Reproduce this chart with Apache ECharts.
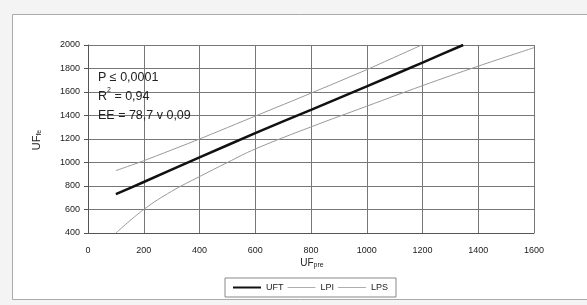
<!DOCTYPE html>
<html lang="en">
<head>
    <meta charset="UTF-8">
    <script src="https://cdn.jsdelivr.net/npm/echarts@6/dist/echarts.min.js"></script>
    <title>UF</title>
    <style>
        html, body { margin: 0; padding: 0; background: #f4f4f4; }
        #main { width: 587px; height: 305px; }
    </style>
</head>
<body>
    <div id="main"></div>
<script type="text/javascript">
    // valores
    var uftData = [[100, 731], [200, 834], [400, 1043], [600, 1250], [800, 1448], [1000, 1648], [1200, 1850], [1346, 2000]];
    var lpiData = [[100, 400], [200, 600], [300, 755], [400, 880], [500, 1000], [600, 1115], [800, 1303], [1000, 1479], [1200, 1654], [1400, 1820], [1600, 1977]];
    var lpsData = [[100, 931], [200, 1015], [400, 1200], [600, 1395], [800, 1590], [1000, 1790], [1197, 2000]];
    var statLines = ['P ≤ 0,0001', 'R{sup|2} = 0,94', 'EE = 78,7 v 0,09'];

    var chart = echarts.init(document.getElementById('main'));
    var font = 'Liberation Sans, Arial, sans-serif';
    var plain = function (v) { return String(v); };

    var option = {
        backgroundColor: '#f4f4f4',
        animation: false,
        grid: { left: 88, right: 53, top: 45, bottom: 72 },
        xAxis: {
            type: 'value', min: 0, max: 1600, interval: 200,
            axisLine: { lineStyle: { color: '#555' } },
            axisTick: { show: false },
            splitLine: { lineStyle: { color: '#777', width: 1 } },
            axisLabel: { color: '#222', fontSize: 9, fontFamily: font, margin: 13, formatter: plain }
        },
        yAxis: {
            type: 'value', min: 400, max: 2000, interval: 200,
            axisLine: { show: true, lineStyle: { color: '#555' } },
            axisTick: { show: true, length: 4, lineStyle: { color: '#555' } },
            splitLine: { lineStyle: { color: '#777', width: 1 } },
            axisLabel: { color: '#222', fontSize: 9, fontFamily: font, margin: 8, formatter: plain }
        },
        legend: {
            left: 225, top: 278, width: 173, height: 14,
            padding: [5, 8],
            itemGap: 4, itemWidth: 28, itemHeight: 10,
            borderColor: '#888', borderWidth: 1, borderRadius: 0,
            backgroundColor: '#fff',
            textStyle: { fontSize: 9, fontFamily: font, color: '#222' },
            data: [
                { name: 'UFT', icon: 'path://M0,4 L28,4 L28,6 L0,6 Z', itemStyle: { color: '#111' } },
                { name: 'LPI', icon: 'path://M0,4.6 L28,4.6 L28,5.4 L0,5.4 Z', itemStyle: { color: '#999' } },
                { name: 'LPS', icon: 'path://M0,4.6 L28,4.6 L28,5.4 L0,5.4 Z', itemStyle: { color: '#999' } }
            ]
        },
        graphic: [
            {
                type: 'rect', z: -1, silent: true,
                shape: { x: 12.5, y: 14.5, width: 600, height: 285 },
                style: { fill: '#fff', stroke: '#aaa', lineWidth: 1 }
            },
            {
                type: 'text', left: 98, top: 68, z: 10,
                style: {
                    text: statLines.join('\n'),
                    font: '12.5px ' + font, fill: '#222', lineHeight: 19,
                    rich: { sup: { fontSize: 7, verticalAlign: 'top', lineHeight: 19, padding: [0, 0, 6, 0] } }
                }
            },
            {
                type: 'text', x: 37, y: 140, rotation: Math.PI / 2, z: 10,
                style: {
                    text: 'UF{sub|fe}', font: '11px ' + font, fill: '#222',
                    align: 'center', verticalAlign: 'middle',
                    rich: { sub: { fontSize: 7, padding: [5, 0, 0, 0] } }
                }
            },
            {
                type: 'text', x: 312, y: 263, z: 10,
                style: {
                    text: 'UF{sub|pre}', font: '10px ' + font, fill: '#222',
                    align: 'center', verticalAlign: 'middle',
                    rich: { sub: { fontSize: 7, padding: [5, 0, 0, 0] } }
                }
            }
        ],
        series: [
            {
                name: 'UFT', type: 'line', data: uftData, showSymbol: false, smooth: 0.2,
                lineStyle: { color: '#111', width: 2.5 }, itemStyle: { color: '#111' }
            },
            {
                name: 'LPI', type: 'line', data: lpiData, showSymbol: false, smooth: 0.4,
                lineStyle: { color: '#999', width: 1 }, itemStyle: { color: '#999' }
            },
            {
                name: 'LPS', type: 'line', data: lpsData, showSymbol: false, smooth: 0.2,
                lineStyle: { color: '#999', width: 1 }, itemStyle: { color: '#999' }
            }
        ]
    };

    chart.setOption(option);
</script>
</body>
</html>
